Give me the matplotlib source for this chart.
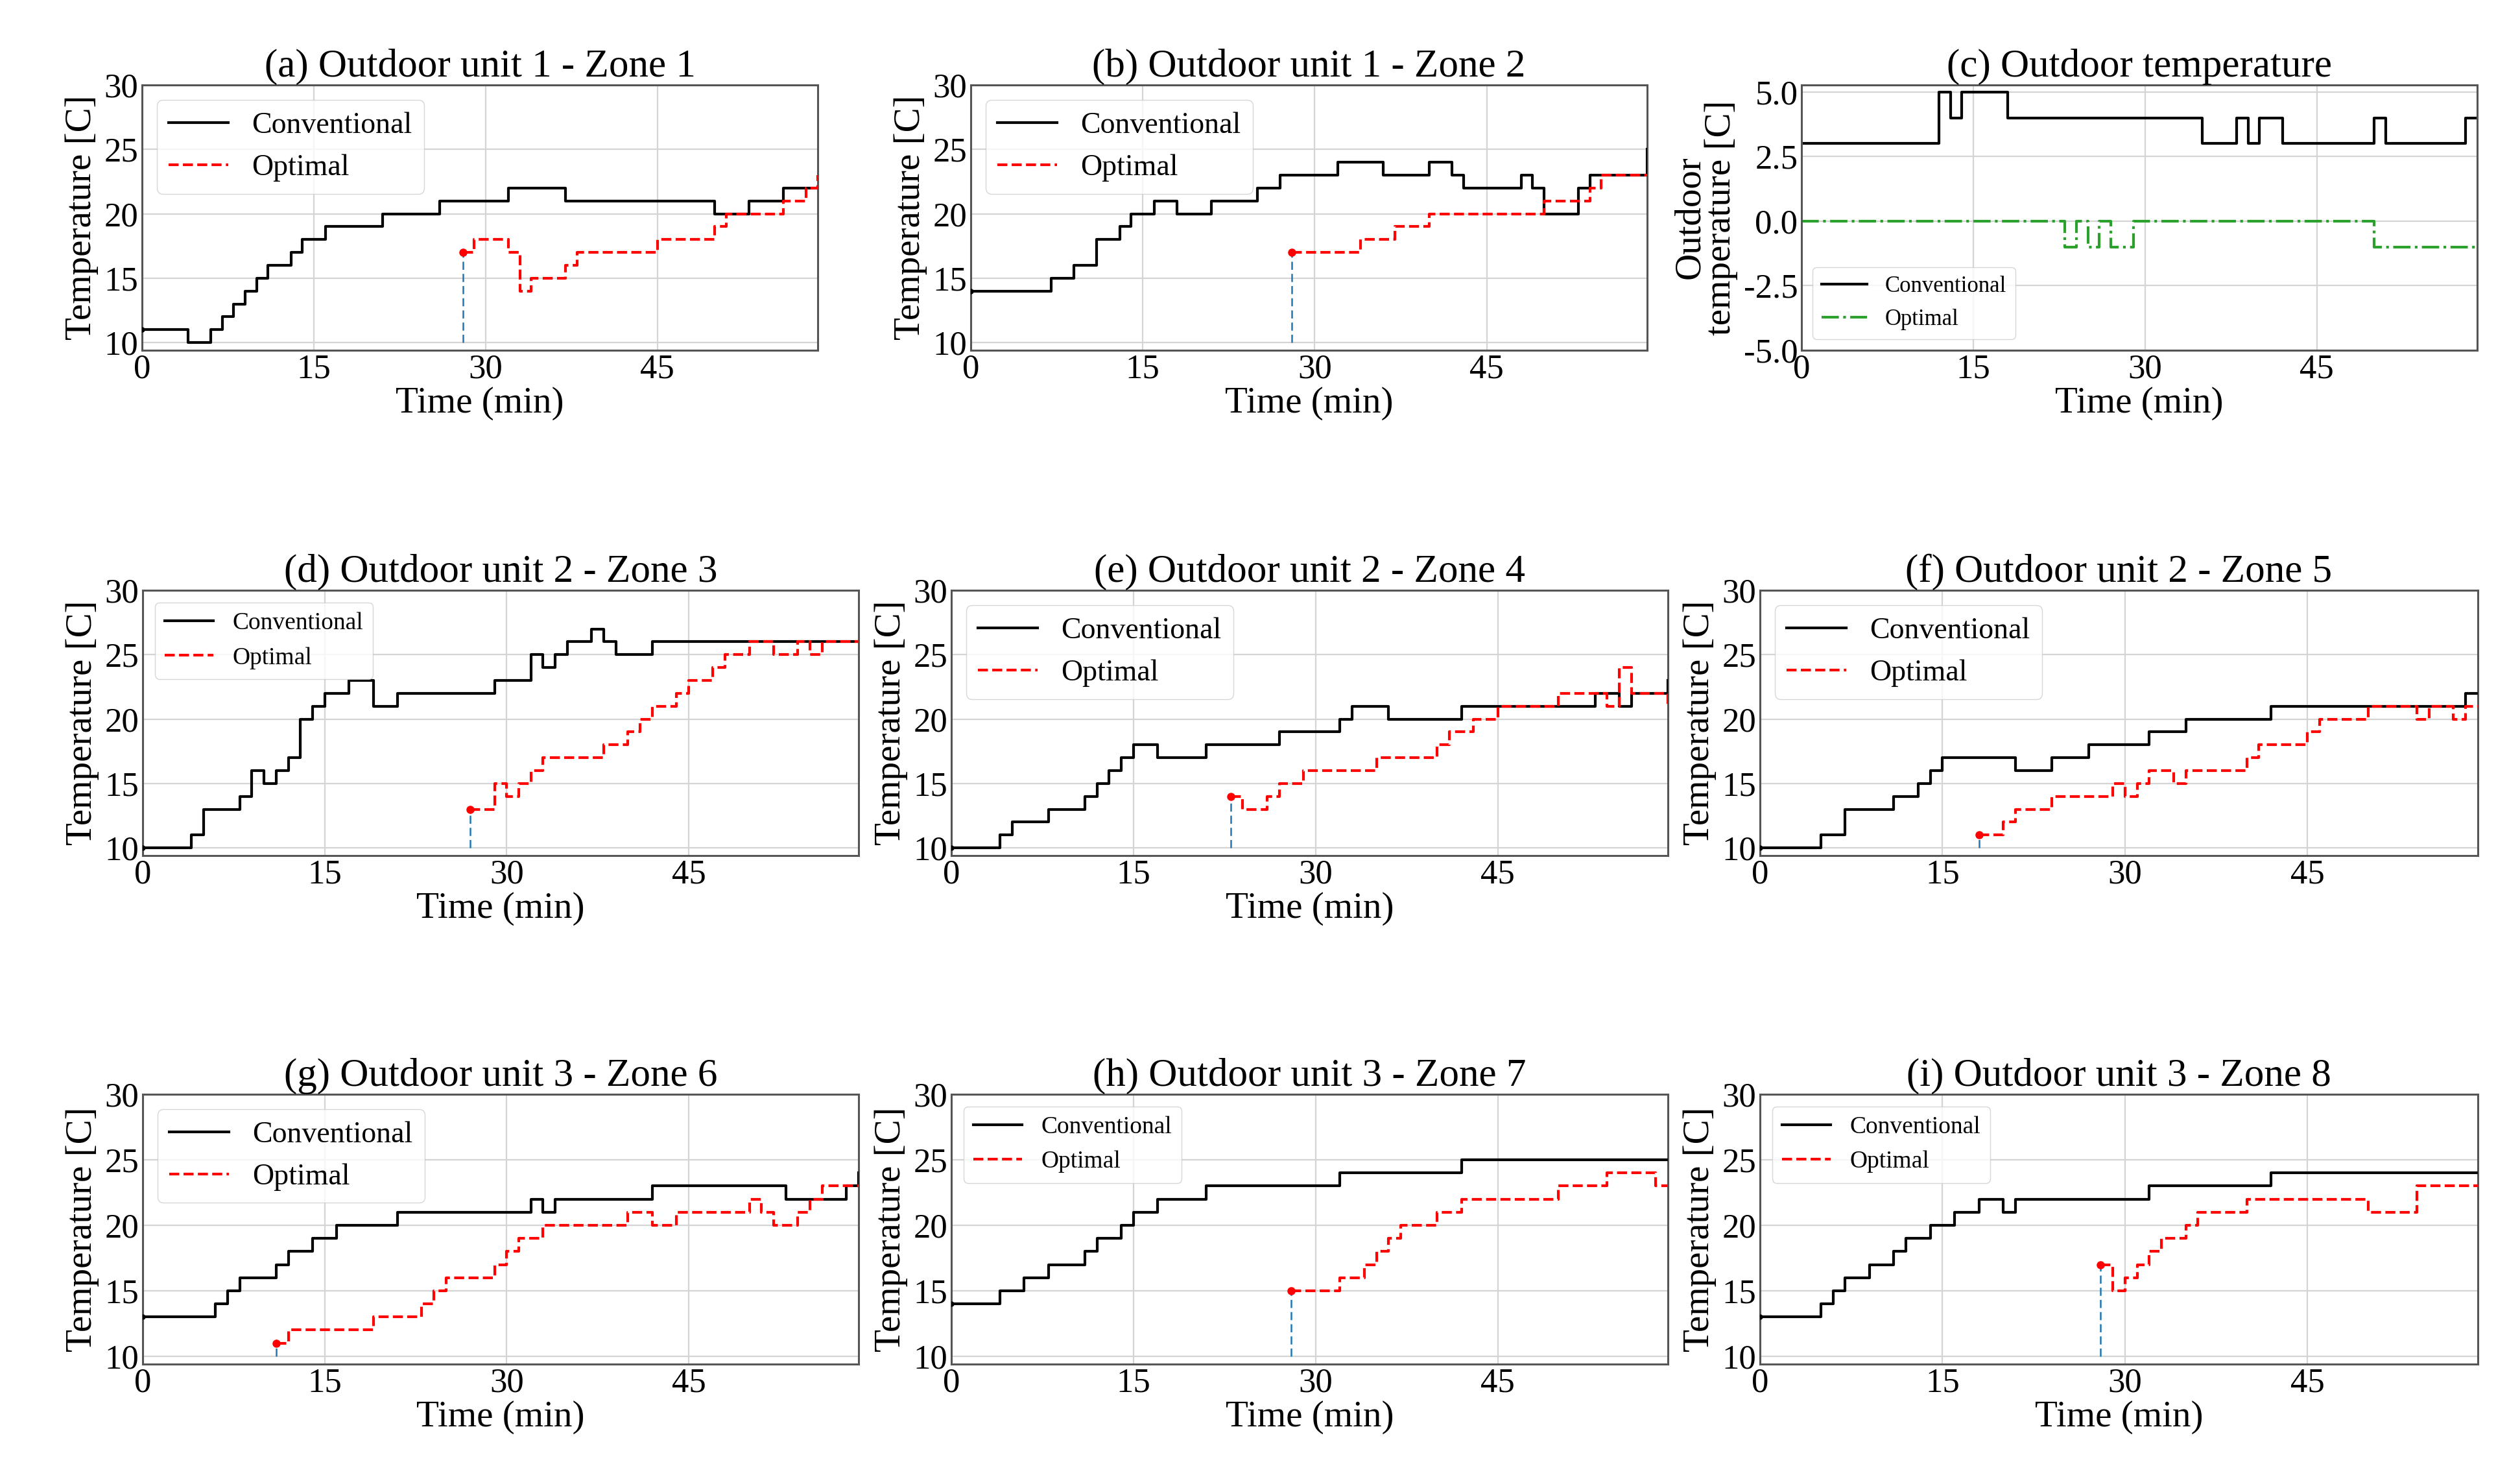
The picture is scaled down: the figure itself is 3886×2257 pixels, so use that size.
import numpy as np
import matplotlib
matplotlib.use("Agg")
import matplotlib.pyplot as plt

plt.rcParams['font.family'] = ['Liberation Serif', 'DejaVu Serif']
plt.rcParams['axes.unicode_minus'] = False

# Tiempo final (min) y temperatura base para la linea azul
t_fin = 59
t_base = 10

# (a) Outdoor unit 1 - Zone 1
a_conv_t = [0, 4, 6, 7, 8, 9, 10, 11, 13, 14, 16, 21, 26, 32, 37, 50, 53, 56]
a_conv_v = [11, 10, 11, 12, 13, 14, 15, 16, 17, 18, 19, 20, 21, 22, 21, 20, 21, 22]
a_opt_t = [28, 29, 32, 33, 34, 37, 38, 45, 50, 51, 56, 58, 59]
a_opt_v = [17, 18, 17, 14, 15, 16, 17, 18, 19, 20, 21, 22, 23]

# (b) Outdoor unit 1 - Zone 2
b_conv_t = [0, 7, 9, 11, 13, 14, 16, 18, 21, 25, 27, 32, 36, 40, 42, 43, 48, 49, 50, 53, 54, 59]
b_conv_v = [14, 15, 16, 18, 19, 20, 21, 20, 21, 22, 23, 24, 23, 24, 23, 22, 23, 22, 20, 22, 23, 25]
b_opt_t = [28, 34, 37, 40, 50, 54, 55]
b_opt_v = [17, 18, 19, 20, 21, 22, 23]

# (c) Outdoor temperature
c_conv_t = [0, 12, 13, 14, 18, 35, 38, 39, 40, 42, 50, 51, 58]
c_conv_v = [3, 5, 4, 5, 4, 3, 4, 3, 4, 3, 4, 3, 4]
c_opt_t = [0, 23, 24, 25, 26, 27, 29, 50]
c_opt_v = [0, -1, 0, -1, 0, -1, 0, -1]

# (d) Outdoor unit 2 - Zone 3
d_conv_t = [0, 4, 5, 8, 9, 10, 11, 12, 13, 14, 15, 17, 19, 21, 29, 32, 33, 34, 35, 37, 38, 39, 42]
d_conv_v = [10, 11, 13, 14, 16, 15, 16, 17, 20, 21, 22, 23, 21, 22, 23, 25, 24, 25, 26, 27, 26, 25, 26]
d_opt_t = [27, 29, 30, 31, 32, 33, 38, 40, 41, 42, 44, 45, 47, 48, 50, 52, 54, 55, 56]
d_opt_v = [13, 15, 14, 15, 16, 17, 18, 19, 20, 21, 22, 23, 24, 25, 26, 25, 26, 25, 26]

# (e) Outdoor unit 2 - Zone 4
e_conv_t = [0, 4, 5, 8, 11, 12, 13, 14, 15, 17, 21, 27, 32, 33, 36, 42, 53, 55, 56, 59]
e_conv_v = [10, 11, 12, 13, 14, 15, 16, 17, 18, 17, 18, 19, 20, 21, 20, 21, 22, 21, 22, 23]
e_opt_t = [23, 24, 26, 27, 29, 35, 40, 41, 43, 45, 50, 54, 55, 56, 59]
e_opt_v = [14, 13, 14, 15, 16, 17, 18, 19, 20, 21, 22, 21, 24, 22, 21]

# (f) Outdoor unit 2 - Zone 5
f_conv_t = [0, 5, 7, 11, 13, 14, 15, 21, 24, 27, 32, 35, 42, 58]
f_conv_v = [10, 11, 13, 14, 15, 16, 17, 16, 17, 18, 19, 20, 21, 22]
f_opt_t = [18, 20, 21, 24, 29, 30, 31, 32, 34, 35, 40, 41, 45, 46, 50, 54, 55, 57, 58]
f_opt_v = [11, 12, 13, 14, 15, 14, 15, 16, 15, 16, 17, 18, 19, 20, 21, 20, 21, 20, 21]

# (g) Outdoor unit 3 - Zone 6
g_conv_t = [0, 6, 7, 8, 11, 12, 14, 16, 21, 32, 33, 34, 42, 53, 58, 59]
g_conv_v = [13, 14, 15, 16, 17, 18, 19, 20, 21, 22, 21, 22, 23, 22, 23, 24]
g_opt_t = [11, 12, 19, 23, 24, 25, 29, 30, 31, 33, 40, 42, 44, 50, 51, 52, 54, 55, 56]
g_opt_v = [11, 12, 13, 14, 15, 16, 17, 18, 19, 20, 21, 20, 21, 22, 21, 20, 21, 22, 23]

# (h) Outdoor unit 3 - Zone 7
h_conv_t = [0, 4, 6, 8, 11, 12, 14, 15, 17, 21, 32, 42]
h_conv_v = [14, 15, 16, 17, 18, 19, 20, 21, 22, 23, 24, 25]
h_opt_t = [28, 32, 34, 35, 36, 37, 40, 42, 50, 54, 58]
h_opt_v = [15, 16, 17, 18, 19, 20, 21, 22, 23, 24, 23]

# (i) Outdoor unit 3 - Zone 8
i_conv_t = [0, 5, 6, 7, 9, 11, 12, 14, 16, 18, 20, 21, 32, 42]
i_conv_v = [13, 14, 15, 16, 17, 18, 19, 20, 21, 22, 21, 22, 23, 24]
i_opt_t = [28, 29, 30, 31, 32, 33, 35, 36, 40, 50, 54]
i_opt_v = [17, 15, 16, 17, 18, 19, 20, 21, 22, 21, 23]

x_ticks = [0, 15, 30, 45]
y_ticks = [10, 15, 20, 25, 30]
c_ticks = [-5.0, -2.5, 0.0, 2.5, 5.0]

W, H = 3886, 2257
fig = plt.figure(figsize=(W / 100, H / 100), dpi=100)


def eje(izq, der, arriba, abajo):
    return fig.add_axes([izq / W, 1 - abajo / H, (der - izq) / W, (abajo - arriba) / H])


def escalon(t, v):
    t = list(t)
    v = list(v)
    if t[-1] < t_fin:
        t.append(t_fin)
        v.append(v[-1])
    return t, v


def estilo(ax, titulo, xlabel=True):
    ax.set_title(titulo, fontsize=44, pad=8)
    ax.set_xlim(0, t_fin)
    ax.set_xticks(x_ticks)
    ax.grid(True, color='#d4d4d4', lw=1.6)
    ax.set_axisbelow(True)
    ax.tick_params(length=0, labelsize=38, pad=4)
    for s in ax.spines.values():
        s.set_color('#555555')
        s.set_linewidth(2.2)
    if xlabel:
        ax.set_xlabel('Time (min)', fontsize=41, labelpad=2)


def panel(ax, titulo, ct, cv, ot, ov, fs_ley=33, xlabel=True):
    t, v = escalon(ct, cv)
    ax.plot(t, v, drawstyle='steps-post', color='black', lw=3, label='Conventional', zorder=3)
    ax.plot(ct[0], cv[0], 'o', color='black', ms=5, zorder=3)
    ax.plot([ot[0], ot[0]], [t_base, ov[0]], color='#1f77b4', lw=1.8,
            dashes=(5, 2.5), zorder=2)
    t, v = escalon(ot, ov)
    ax.plot(t, v, drawstyle='steps-post', color='red', ls='--', lw=3, label='Optimal', zorder=4)
    ax.plot(ot[0], ov[0], 'o', color='red', ms=8, zorder=5)
    ax.set_ylim(9.4, 30)
    ax.set_yticks(y_ticks)
    ax.set_ylabel('Temperature [C]', fontsize=41, labelpad=6)
    ax.legend(loc='upper left', fontsize=fs_ley, framealpha=0.8)
    estilo(ax, titulo, xlabel)


# Fila 1
ax = eje(219, 1261, 131, 540)
panel(ax, '(a) Outdoor unit 1 - Zone 1', a_conv_t, a_conv_v, a_opt_t, a_opt_v)
ax = eje(1497, 2540, 131, 540)
panel(ax, '(b) Outdoor unit 1 - Zone 2', b_conv_t, b_conv_v, b_opt_t, b_opt_v)

ax = eje(2778, 3820, 131, 540)
t, v = escalon(c_conv_t, c_conv_v)
ax.plot(t, v, drawstyle='steps-post', color='black', lw=3, label='Conventional')
t, v = escalon(c_opt_t, c_opt_v)
ax.plot(t, v, drawstyle='steps-post', color='#2ca02c', ls='-.', lw=3, label='Optimal')
ax.set_ylim(-5, 5.27)
ax.set_yticks(c_ticks)
ax.set_yticklabels([f'{x:.1f}' for x in c_ticks])
ax.set_ylabel('Outdoor\ntemperature [C]', fontsize=41, labelpad=6, linespacing=0.9)
ax.legend(loc='lower left', fontsize=25, framealpha=0.8)
estilo(ax, '(c) Outdoor temperature')

# Fila 2
ax = eje(220, 1324, 910, 1319)
panel(ax, '(d) Outdoor unit 2 - Zone 3', d_conv_t, d_conv_v, d_opt_t, d_opt_v, fs_ley=27)
ax = eje(1467, 2572, 910, 1319)
panel(ax, '(e) Outdoor unit 2 - Zone 4', e_conv_t, e_conv_v, e_opt_t, e_opt_v)
ax = eje(2714, 3821, 910, 1319)
panel(ax, '(f) Outdoor unit 2 - Zone 5', f_conv_t, f_conv_v, f_opt_t, f_opt_v, xlabel=False)

# Fila 3
ax = eje(220, 1324, 1687, 2103)
panel(ax, '(g) Outdoor unit 3 - Zone 6', g_conv_t, g_conv_v, g_opt_t, g_opt_v)
ax = eje(1467, 2572, 1687, 2103)
panel(ax, '(h) Outdoor unit 3 - Zone 7', h_conv_t, h_conv_v, h_opt_t, h_opt_v, fs_ley=27)
ax = eje(2714, 3821, 1687, 2103)
panel(ax, '(i) Outdoor unit 3 - Zone 8', i_conv_t, i_conv_v, i_opt_t, i_opt_v, fs_ley=27)

fig.savefig('out.png', dpi=100, facecolor='white')
